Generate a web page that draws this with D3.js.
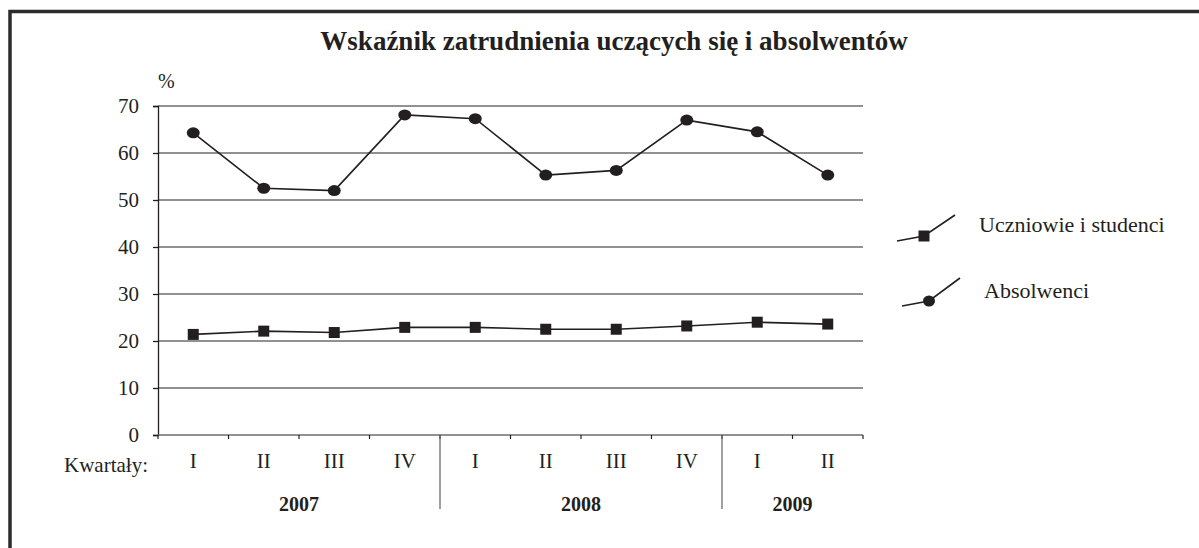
<!DOCTYPE html>
<html>
<head>
<meta charset="utf-8">
<script src="https://cdn.jsdelivr.net/npm/d3@7"></script>
<style>
  body { margin: 0; background: #fff; }
  text { font-family: "Liberation Serif", "Times New Roman", serif; fill: #231f20; }
</style>
</head>
<body>
<svg id="chart" width="1199" height="548"></svg>
<script>
// data
var quarters = ["I", "II", "III", "IV", "I", "II", "III", "IV", "I", "II"];
var years = [
    { label: "2007", from: 0, to: 4 },
    { label: "2008", from: 4, to: 8 },
    { label: "2009", from: 8, to: 10 }
];
var uczniowie = [21.4, 22.1, 21.8, 22.9, 22.9, 22.5, 22.5, 23.2, 24.0, 23.6];
var absolwenci = [64.3, 52.5, 52.0, 68.1, 67.3, 55.3, 56.3, 67.0, 64.5, 55.3];
var yTicks = [0, 10, 20, 30, 40, 50, 60, 70];

var svg = d3.select("#chart");
var ink = "#231f20";
var serif = "'Liberation Serif', 'Times New Roman', serif";

var margin = { left: 158, right: 336, top: 106, bottom: 113 };
var width = 1199 - margin.left - margin.right;
var height = 548 - margin.top - margin.bottom;

// frame: only top and left edges are visible
svg.append("path")
    .attr("d", "M10,548 V11.5 H1199")
    .attr("fill", "none")
    .attr("stroke", "#2b2b2b")
    .attr("stroke-width", 3.5);

svg.append("text")
    .attr("x", 614)
    .attr("y", 50)
    .attr("text-anchor", "middle")
    .attr("font-weight", "bold")
    .attr("font-size", 27)
    .text("Wskaźnik zatrudnienia uczących się i absolwentów");

var g = svg.append("g")
    .attr("transform", "translate(" + margin.left + "," + margin.top + ")");

var x = d3.scaleBand()
    .domain(d3.range(quarters.length))
    .range([0, width]);
var y = d3.scaleLinear()
    .domain([0, 70])
    .range([height, 0]);

// grid
g.selectAll(".grid")
    .data(yTicks.slice(1))
    .enter().append("line")
    .attr("x1", 0)
    .attr("x2", width)
    .attr("y1", function(d) { return y(d); })
    .attr("y2", function(d) { return y(d); })
    .attr("stroke", "#6d6d6d")
    .attr("stroke-width", 1.3);

// y axis
var yAxis = d3.axisLeft(y)
    .tickValues(yTicks)
    .tickSize(5)
    .tickPadding(14);
var ya = g.append("g").call(yAxis)
    .attr("font-family", null);
ya.select(".domain").attr("stroke", ink).attr("stroke-width", 1.3);
ya.selectAll(".tick line").attr("stroke", ink).attr("stroke-width", 1.3);
ya.selectAll(".tick text")
    .style("font-family", serif)
    .style("font-size", "21px")
    .attr("fill", ink);

g.append("text")
    .attr("x", 0)
    .attr("y", -18)
    .attr("font-size", 20)
    .text("%");

// x axis with ticks at band edges
var xEdges = d3.range(quarters.length + 1).map(function(i) { return i * x.bandwidth(); });
g.append("line")
    .attr("x1", 0).attr("x2", width)
    .attr("y1", height).attr("y2", height)
    .attr("stroke", "#6d6d6d")
    .attr("stroke-width", 1.5);
g.selectAll(".xtick")
    .data(xEdges)
    .enter().append("line")
    .attr("x1", function(d) { return d; })
    .attr("x2", function(d) { return d; })
    .attr("y1", height)
    .attr("y2", height + 4)
    .attr("stroke", ink)
    .attr("stroke-width", 1.2);

g.selectAll(".qlabel")
    .data(quarters)
    .enter().append("text")
    .attr("x", function(d, i) { return x(i) + x.bandwidth() / 2; })
    .attr("y", height + 33)
    .attr("text-anchor", "middle")
    .attr("font-size", 21)
    .text(function(d) { return d; });

g.append("text")
    .attr("x", -10)
    .attr("y", height + 37)
    .attr("text-anchor", "end")
    .attr("font-size", 21)
    .text("Kwartały:");

// year separators
g.selectAll(".ysep")
    .data(years.slice(1))
    .enter().append("line")
    .attr("x1", function(d) { return x(d.from); })
    .attr("x2", function(d) { return x(d.from); })
    .attr("y1", height)
    .attr("y2", height + 74)
    .attr("stroke", "#6d6d6d")
    .attr("stroke-width", 1.3);

g.selectAll(".year")
    .data(years)
    .enter().append("text")
    .attr("x", function(d) { return (x(d.from) + (d.to < quarters.length ? x(d.to) : width)) / 2; })
    .attr("y", height + 76)
    .attr("text-anchor", "middle")
    .attr("font-weight", "bold")
    .attr("font-size", 20)
    .text(function(d) { return d.label; });

// series
var line = d3.line()
    .x(function(d, i) { return x(i) + x.bandwidth() / 2; })
    .y(function(d) { return y(d); });

[uczniowie, absolwenci].forEach(function(s) {
    g.append("path")
        .datum(s)
        .attr("d", line)
        .attr("fill", "none")
        .attr("stroke", ink)
        .attr("stroke-width", 1.6);
});

g.selectAll(".sq")
    .data(uczniowie)
    .enter().append("rect")
    .attr("x", function(d, i) { return x(i) + x.bandwidth() / 2 - 5.5; })
    .attr("y", function(d) { return y(d) - 5.5; })
    .attr("width", 11)
    .attr("height", 11)
    .attr("fill", ink);

g.selectAll(".dot")
    .data(absolwenci)
    .enter().append("ellipse")
    .attr("cx", function(d, i) { return x(i) + x.bandwidth() / 2; })
    .attr("cy", function(d) { return y(d); })
    .attr("rx", 6.5)
    .attr("ry", 5.5)
    .attr("fill", ink);

// legend
var legend = svg.append("g");
legend.append("path")
    .attr("d", "M897,241 L924,236 L955,215")
    .attr("fill", "none").attr("stroke", ink).attr("stroke-width", 1.6);
legend.append("rect")
    .attr("x", 918.5).attr("y", 230.5).attr("width", 11).attr("height", 11)
    .attr("fill", ink);
legend.append("text")
    .attr("x", 979).attr("y", 232)
    .attr("font-size", 22)
    .text("Uczniowie i studenci");

legend.append("path")
    .attr("d", "M902,306 L929,301 L960,278")
    .attr("fill", "none").attr("stroke", ink).attr("stroke-width", 1.6);
legend.append("ellipse")
    .attr("cx", 929).attr("cy", 301).attr("rx", 6).attr("ry", 5.5)
    .attr("fill", ink);
legend.append("text")
    .attr("x", 984).attr("y", 298)
    .attr("font-size", 22)
    .text("Absolwenci");
</script>
</body>
</html>
